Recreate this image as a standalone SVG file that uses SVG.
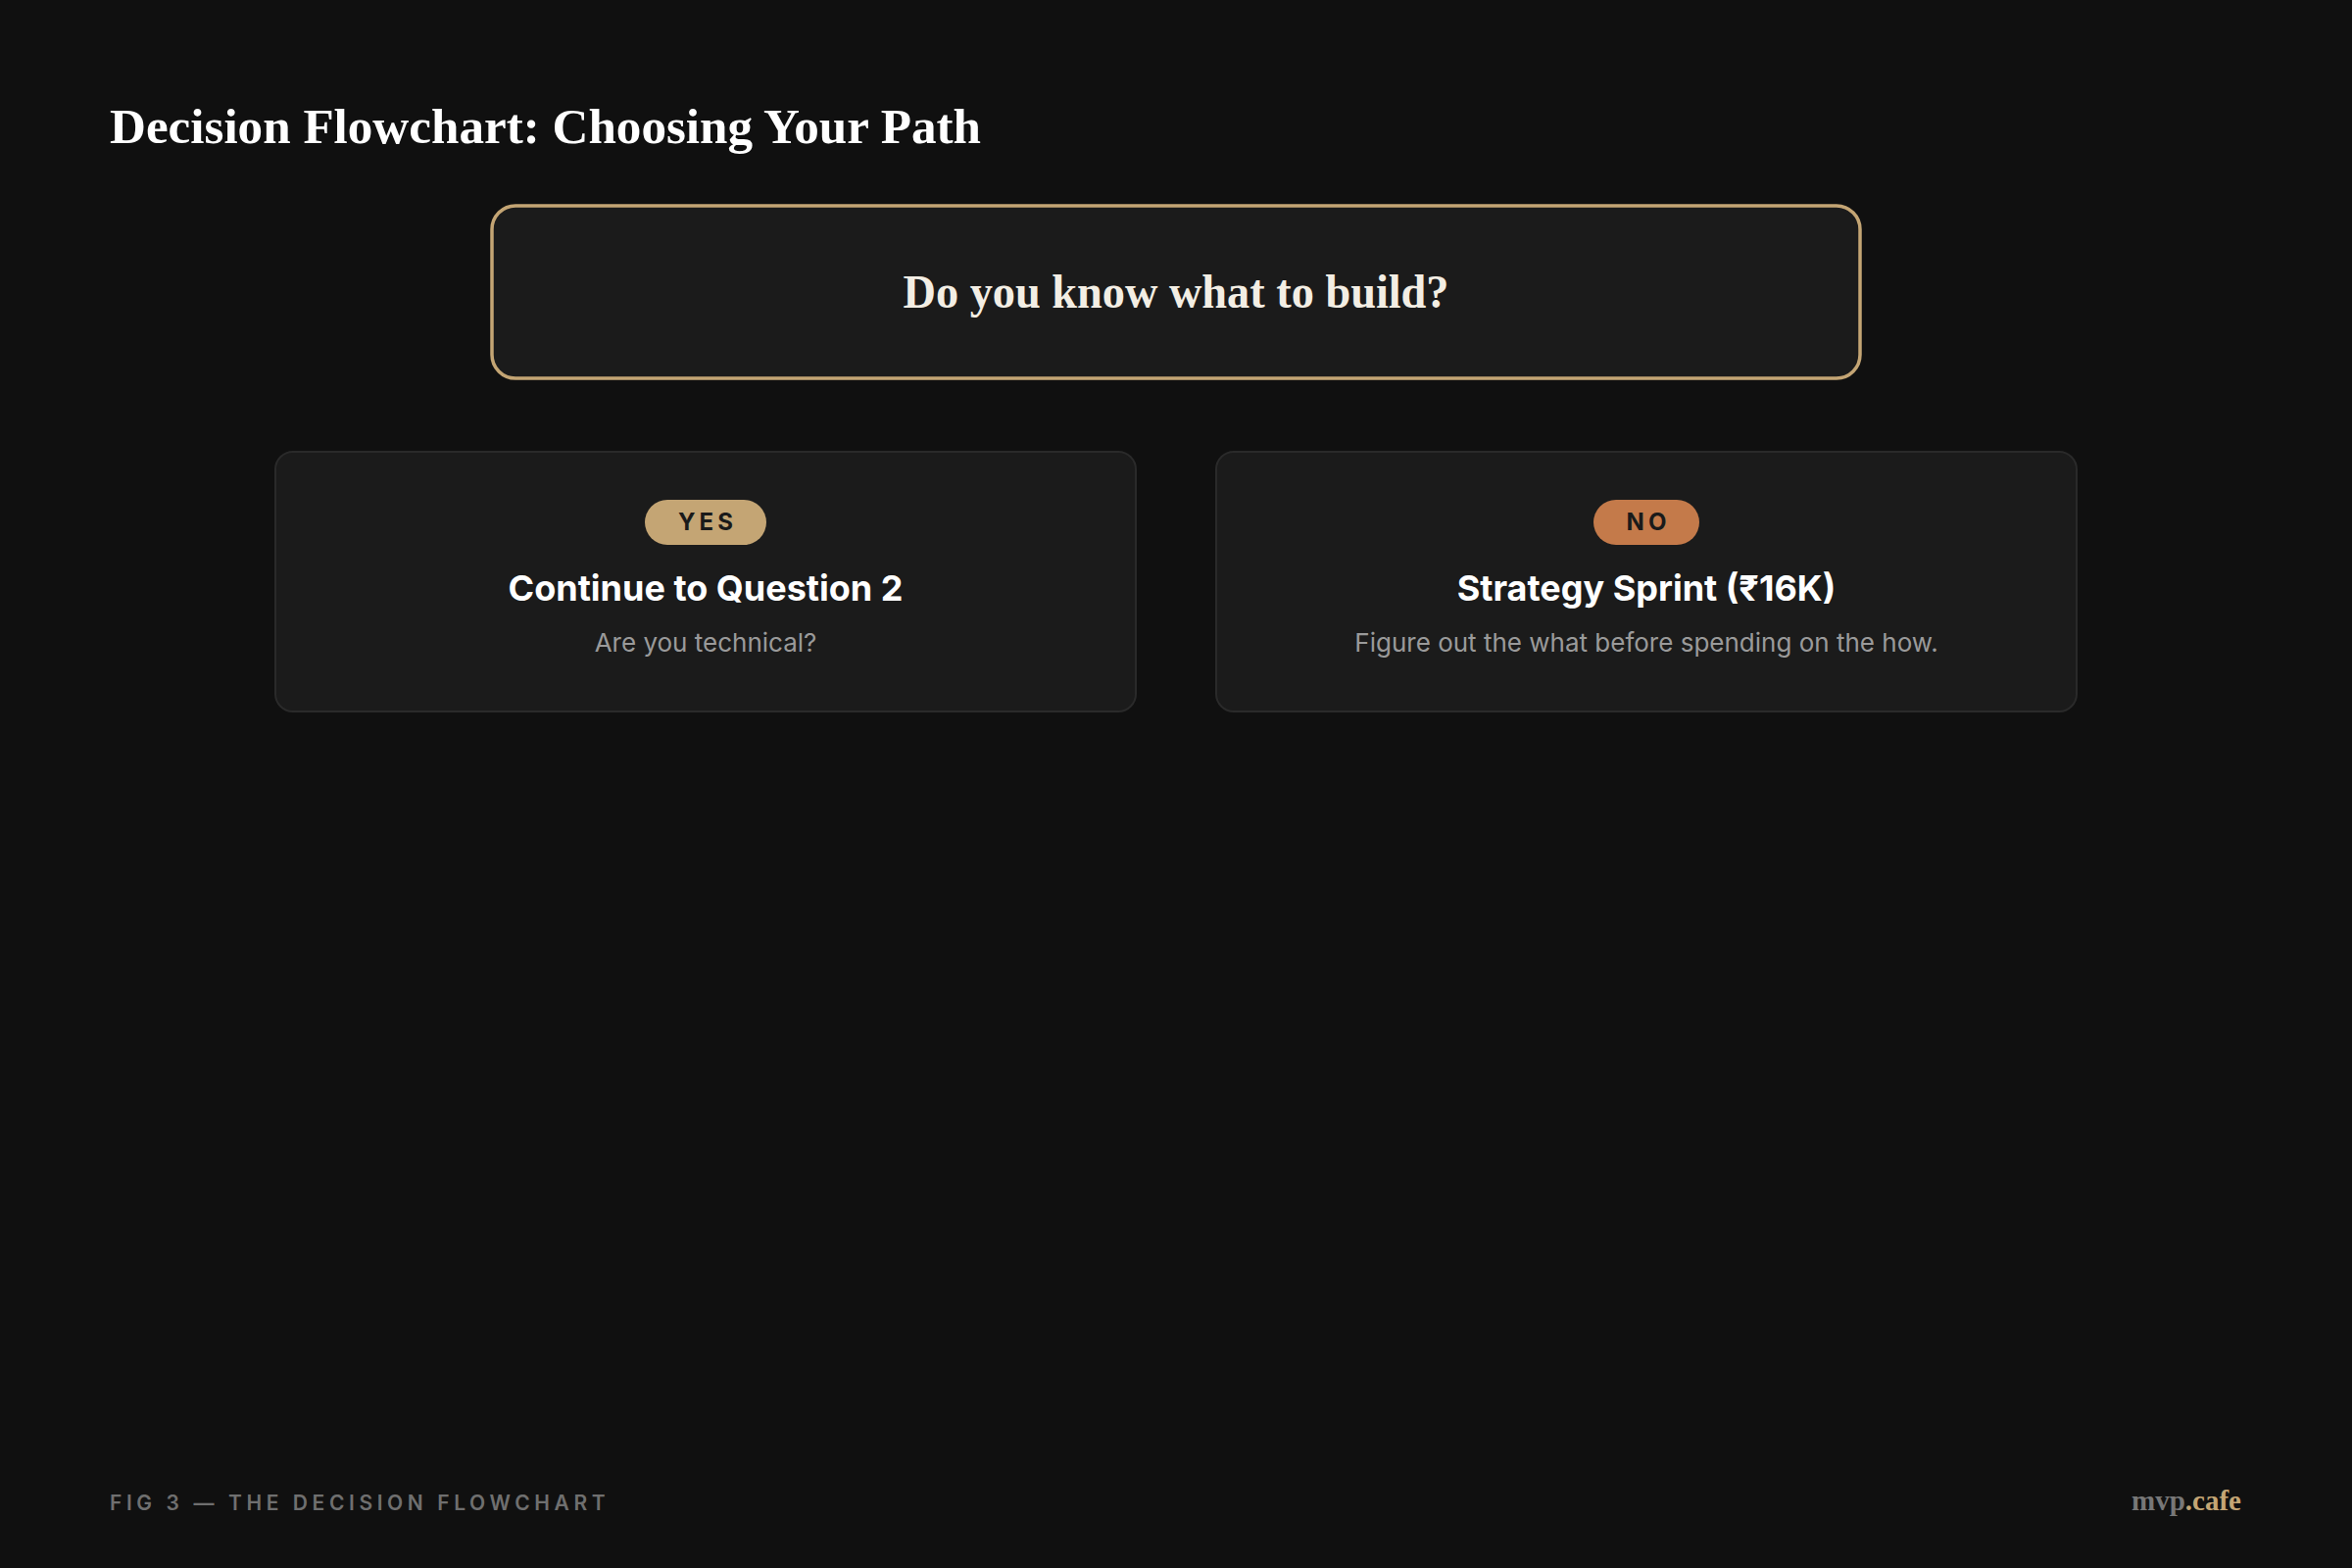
<svg xmlns="http://www.w3.org/2000/svg" width="2400" height="1600" viewBox="0 0 2400 1600">
  <style>
    .serif { font-family: "Liberation Serif", "DejaVu Serif", serif; font-weight: bold; }
    .sans { font-family: Inter, "Noto Sans", "Liberation Sans", sans-serif; }
    .card { fill: #1b1b1b; stroke: #2a2a2a; stroke-width: 2; }
    .ctitle { font-family: Inter, "Noto Sans", "Liberation Sans", sans-serif; font-weight: bold; font-size: 36px; fill: #ffffff; text-anchor: middle; }
    .csub { font-family: Inter, "Noto Sans", "Liberation Sans", sans-serif; font-size: 26px; fill: #9a9a9a; text-anchor: middle; }
    .badge { font-family: Inter, "Noto Sans", "Liberation Sans", sans-serif; font-weight: bold; font-size: 24px; fill: #1a1a1a; text-anchor: middle; letter-spacing: 4px; }
  </style>
  <rect x="0" y="0" width="2400" height="1600" fill="#101010"/>
  <text class="serif" x="112" y="146" font-size="51" fill="#ffffff" textLength="889" lengthAdjust="spacingAndGlyphs">Decision Flowchart: Choosing Your Path</text>

  <g id="question">
    <rect x="502" y="210" width="1396" height="176" rx="24" fill="#1b1b1b" stroke="#c4a574" stroke-width="3.5"/>
    <text class="serif" x="1200" y="314" font-size="48" fill="#f3eee4" text-anchor="middle" textLength="557" lengthAdjust="spacingAndGlyphs">Do you know what to build?</text>
  </g>

  <g id="connectors"></g>

  <g id="yes-card">
    <rect class="card" x="281" y="461" width="878" height="265" rx="18"/>
    <rect x="658" y="510" width="124" height="46" rx="23" fill="#c4a574"/>
    <text class="badge" x="722" y="541">YES</text>
    <text class="ctitle" x="720" y="613">Continue to Question 2</text>
    <text class="csub" x="720" y="665">Are you technical?</text>
  </g>

  <g id="no-card">
    <rect class="card" x="1241" y="461" width="878" height="265" rx="18"/>
    <rect x="1626" y="510" width="108" height="46" rx="23" fill="#c47a4a"/>
    <text class="badge" x="1682" y="541">NO</text>
    <text class="ctitle" x="1680" y="613">Strategy Sprint (₹16K)</text>
    <text class="csub" x="1680" y="665">Figure out the what before spending on the how.</text>
  </g>

  <text class="sans" x="112" y="1541" font-size="21" font-weight="600" fill="#6f6f6f" letter-spacing="4.6">FIG 3 — THE DECISION FLOWCHART</text>
  <text class="serif" x="2287" y="1541" font-size="29" text-anchor="end"><tspan fill="#777777">mvp</tspan><tspan fill="#c4a574">.cafe</tspan></text>
</svg>
